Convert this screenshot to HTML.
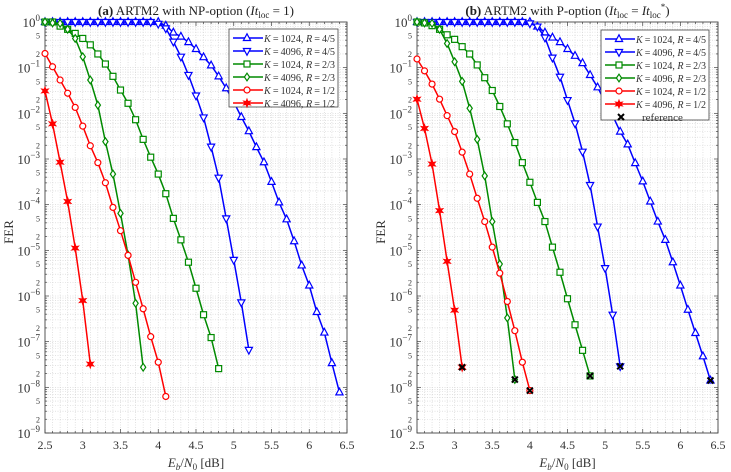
<!DOCTYPE html>
<html><head><meta charset="utf-8"><style>
body{margin:0;background:#fff;}
svg{display:block;font-family:"Liberation Serif",serif;}
</style></head><body>
<svg id="c" width="731" height="472" viewBox="0 0 731 472" xmlns="http://www.w3.org/2000/svg"></svg>
<script>
// x values (Eb/N0 dB) start at 2.5 step 0.1 ; values are log10(FER)
const xStart = [2.5];
const xStep = [0.1];
const xTicks = [2.5,3,3.5,4,4.5,5,5.5,6,6.5];
const xTickLabels = ["2.5","3","3.5","4","4.5","5","5.5","6","6.5"];
const yDecades = [0,-1,-2,-3,-4,-5,-6,-7,-8,-9];
const seriesNames = ["K = 1024,  R = 4/5","K = 4096,  R = 4/5","K = 1024,  R = 2/3","K = 4096,  R = 2/3","K = 1024,  R = 1/2","K = 4096,  R = 1/2"];
// panel (a)
const a_1024_45 = [0,0,0,0,0,0,0,0,0,0,0,0,0,0,0,0,-0.08,-0.23,-0.32,-0.44,-0.59,-0.77,-0.95,-1.19,-1.45,-1.75,-2.08,-2.39,-2.74,-3.07,-3.5,-3.95,-4.32,-4.8,-5.33,-5.77,-6.35,-6.8,-7.47,-8.11];
const a_4096_45 = [0,0,0,0,0,0,0,0,0,0,0,0,0,0,0,-0.04,-0.14,-0.43,-0.76,-1.16,-1.61,-2.09,-2.73,-3.41,-4.3,-5.21,-6.14,-7.18];
const a_1024_23 = [0,0,-0.09,-0.16,-0.25,-0.36,-0.5,-0.7,-0.92,-1.19,-1.49,-1.78,-2.14,-2.57,-2.96,-3.33,-3.76,-4.3,-4.77,-5.26,-5.83,-6.41,-6.91,-7.59];
const a_4096_23 = [0,-0.02,-0.03,-0.16,-0.36,-0.76,-1.27,-1.82,-2.62,-3.33,-4.19,-5.1,-6.16,-7.56];
const a_1024_12 = [-0.69,-0.98,-1.27,-1.56,-1.87,-2.28,-2.71,-3.08,-3.52,-4.06,-4.57,-5.11,-5.7,-6.28,-6.89,-7.45,-8.2];
const a_4096_12 = [-1.51,-2.23,-3.07,-3.93,-4.95,-6.1,-7.49];
// panel (b)
const b_1024_45 = [0,0,0,0,0,0,0,0,0,0,0,0,0,0,0,0,-0.1,-0.23,-0.34,-0.44,-0.59,-0.74,-0.9,-1.16,-1.43,-1.75,-2.05,-2.4,-2.68,-3.09,-3.49,-3.93,-4.37,-4.77,-5.26,-5.77,-6.3,-6.81,-7.32,-7.85];
const b_4096_45 = [0,0,0,0,0,0,0,0,0,0,0,0,0,0,0,-0.03,-0.1,-0.34,-0.78,-1.2,-1.71,-2.22,-2.84,-3.57,-4.48,-5.39,-6.41,-7.54];
const b_1024_23 = [0,-0.02,-0.08,-0.16,-0.28,-0.38,-0.54,-0.7,-0.94,-1.22,-1.5,-1.85,-2.23,-2.64,-3.08,-3.51,-3.95,-4.37,-4.93,-5.48,-6.06,-6.63,-7.19,-7.75];
const b_4096_23 = [0,-0.02,-0.03,-0.16,-0.47,-0.87,-1.3,-1.89,-2.57,-3.37,-4.37,-5.3,-6.48,-7.83];
const b_1024_12 = [-0.81,-1.07,-1.36,-1.69,-2.05,-2.4,-2.85,-3.33,-3.86,-4.37,-4.93,-5.5,-6.12,-6.76,-7.45,-8.07];
const b_4096_12 = [-1.69,-2.33,-3.11,-4.13,-5.24,-6.31,-7.56];
const refX = [3.1,3.8,4.0,4.8,5.2,6.4];
const refY = [-7.56,-7.83,-8.07,-7.75,-7.54,-7.85];

const NS="http://www.w3.org/2000/svg";
const svg=document.getElementById('c');
function mk(tag,attrs,parent){const e=document.createElementNS(NS,tag);for(const k in attrs)e.setAttribute(k,attrs[k]);(parent||svg).appendChild(e);return e;}
const colors=["#0000ff","#0000ff","#008a00","#008a00","#ff0000","#ff0000"];
const marks=["tu","td","sq","di","ci","st"];
const Y0=22,Y1=433;
function marker(g,type,x,y,col){
  let e;const s=3.6;
  if(type=="tu")e=mk('polygon',{points:`${x},${y-s-0.6} ${x-s},${y+s*0.7} ${x+s},${y+s*0.7}`},g);
  else if(type=="td")e=mk('polygon',{points:`${x},${y+s+0.6} ${x-s},${y-s*0.7} ${x+s},${y-s*0.7}`},g);
  else if(type=="sq")e=mk('rect',{x:x-3,y:y-3,width:6,height:6},g);
  else if(type=="di")e=mk('polygon',{points:`${x},${y-3.8} ${x+2.6},${y} ${x},${y+3.8} ${x-2.6},${y}`},g);
  else if(type=="ci")e=mk('circle',{cx:x,cy:y,r:3},g);
  else if(type=="st"){let p=[];for(let i=0;i<12;i++){const r=i%2?1.6:3.6;const a=Math.PI/6*i-Math.PI/2;p.push((x+r*Math.cos(a)).toFixed(2)+','+(y+r*Math.sin(a)).toFixed(2));}e=mk('polygon',{points:p.join(' ')},g);}
  e.setAttribute('fill',type=="st"?col:'#fff');e.setAttribute('stroke',col);e.setAttribute('stroke-width','1.2');
  
  
  return e;
}
function panel(X0,X1,title,series,withRef,legBox,id){
  const sx=v=>X0+(v-2.5)/4*(X1-X0);
  const sy=l=>Y0+(-l)/9*(Y1-Y0);
  const g=mk('g',{});
  
  
  for(let d=0;d<9;d++)for(let m=1;m<=9;m++){const yy=sy(-d-1+Math.log10(m));mk('line',{x1:X0,x2:X1,y1:yy,y2:yy,stroke:'#d0d0d0','stroke-width':0.6,'stroke-dasharray':'1,1.5'},g);}
  for(let i=0;i<=40;i++){const xx=sx(2.5+i*0.1);mk('line',{x1:xx,x2:xx,y1:Y0,y2:Y1,stroke:'#d0d0d0','stroke-width':0.6,'stroke-dasharray':'1,1.5'},g);}
  for(let i=0;i<=40;i++){const xx=sx(2.5+i*0.1);const L=i%5==0?4:2;mk('line',{x1:xx,x2:xx,y1:Y1,y2:Y1-L,stroke:'#444','stroke-width':0.7},g);mk('line',{x1:xx,x2:xx,y1:Y0,y2:Y0+L,stroke:'#444','stroke-width':0.7},g);}
  for(let d=0;d<9;d++)for(let m=1;m<=9;m++){const yy=sy(-d-1+Math.log10(m));const L=m==1?4:2;mk('line',{x1:X0,x2:X0+L,y1:yy,y2:yy,stroke:'#444','stroke-width':0.7},g);mk('line',{x1:X1,x2:X1-L,y1:yy,y2:yy,stroke:'#444','stroke-width':0.7},g);}
  mk('rect',{x:X0,y:Y0,width:X1-X0,height:Y1-Y0,fill:'none',stroke:'#444','stroke-width':0.9},g);
  yDecades.forEach(d=>{const t=mk('text',{x:X0-5,y:sy(d)+5,'text-anchor':'end','font-size':13,fill:'#333'},g);t.textContent='10';const s=mk('tspan',{dy:-6,'font-size':9},t);s.textContent=String(d).replace('-','−');
    
    if(d>-9){[2,5].forEach(m=>{const tt=mk('text',{x:X0-5,y:sy(d-1+Math.log10(m))+3,'text-anchor':'end','font-size':8,fill:'#333'},g);tt.textContent=String(m);});}
  });
  xTicks.forEach((v,i)=>{const t=mk('text',{x:sx(v),y:449,'text-anchor':'middle','font-size':12,fill:'#333'},g);t.textContent=xTickLabels[i];});
  const xl=mk('text',{x:(X0+X1)/2,y:467,'text-anchor':'middle','font-size':13,fill:'#333'},g);
  xl.innerHTML='<tspan font-style="italic">E</tspan><tspan font-style="italic" font-size="9" dy="3">b</tspan><tspan dy="-3">/</tspan><tspan font-style="italic">N</tspan><tspan font-size="9" dy="3">0</tspan><tspan dy="-3"> [dB]</tspan>';
  
  const yl=mk('text',{x:X0-32,y:232,'text-anchor':'middle','font-size':13,fill:'#333',transform:`rotate(-90 ${X0-32} 232)`},g);yl.textContent='FER';
  
  const tt=mk('text',{x:(X0+X1)/2,y:15,'text-anchor':'middle','font-size':13,fill:'#222'},g);tt.innerHTML=title;
  
  series.forEach((arr,si)=>{const sg=mk('g',{},g);
    const pts=arr.map((l,i)=>[sx(xStart[0]+i*xStep[0]),sy(l)]);
    mk('polyline',{points:pts.map(p=>p.join(',')).join(' '),fill:'none',stroke:colors[si],'stroke-width':1.5},sg);
    pts.forEach(p=>marker(sg,marks[si],p[0],p[1],colors[si]));});
  if(withRef){refX.forEach((v,i)=>{const x=sx(v),y=sy(refY[i]);const p=mk('path',{d:`M${x-3},${y-3}L${x+3},${y+3}M${x-3},${y+3}L${x+3},${y-3}`,stroke:'#000','stroke-width':2},g);});}
  const lg=mk('g',{},g);
  mk('rect',{x:legBox[0],y:legBox[1],width:legBox[2],height:legBox[3],fill:'#fff',stroke:'#444','stroke-width':0.8},lg);
  seriesNames.forEach((n,i)=>{const y=legBox[1]+9+i*13;const le=mk('g',{},lg);
    mk('line',{x1:legBox[0]+4,x2:legBox[0]+34,y1:y,y2:y,stroke:colors[i],'stroke-width':1.5},le);marker(le,marks[i],legBox[0]+18,y,colors[i]);
    const t=mk('text',{x:legBox[0]+35,y:y+4,'font-size':11,fill:'#333',textLength:legBox[2]-38,lengthAdjust:'spacingAndGlyphs'},le);const p=n.split(',');
    t.innerHTML='<tspan font-style="italic">K</tspan>'+p[0].slice(1).replace(' = ','\u2009=\u2009')+',  <tspan font-style="italic">R</tspan>'+p[1].trim().slice(1).replace(' = ','\u2009=\u2009');});
  if(withRef){const y=legBox[1]+9+6*13;const le=mk('g',{},lg);
    mk('path',{d:`M${legBox[0]+17},${y-3}L${legBox[0]+23},${y+3}M${legBox[0]+17},${y+3}L${legBox[0]+23},${y-3}`,stroke:'#000','stroke-width':2},le);
    const t=mk('text',{x:legBox[0]+41,y:y+4,'font-size':11,fill:'#333'},le);t.textContent='reference';}
}
panel(45,347,'<tspan font-weight="bold">(a)</tspan> ARTM2 with NP-option (<tspan font-style="italic">It</tspan><tspan font-size="9" dy="3">loc</tspan><tspan dy="-3"> = 1)</tspan>',[a_1024_45,a_4096_45,a_1024_23,a_4096_23,a_1024_12,a_4096_12],false,[229,29,109,78],'a');
panel(417,718,'<tspan font-weight="bold">(b)</tspan> ARTM2 with P-option (<tspan font-style="italic">It</tspan><tspan font-size="9" dy="3">loc</tspan><tspan dy="-3"> = </tspan><tspan font-style="italic">It</tspan><tspan font-size="9" dy="3">loc</tspan><tspan font-size="9" dy="-8">*</tspan><tspan dy="5">)</tspan>',[b_1024_45,b_4096_45,b_1024_23,b_4096_23,b_1024_12,b_4096_12],true,[601,30,108,90],'b');
</script>
</body></html>
